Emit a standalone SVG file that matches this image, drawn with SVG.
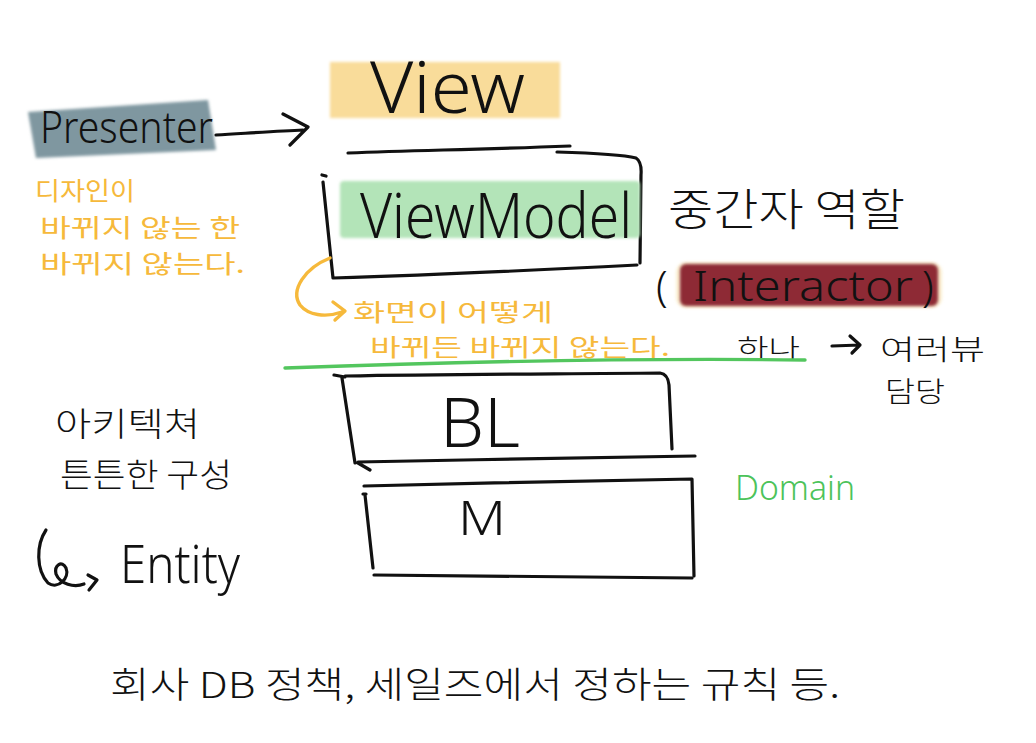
<svg xmlns="http://www.w3.org/2000/svg" width="1036" height="743" viewBox="0 0 1036 743">
<defs>
<style>
.ink{fill:none;stroke:#111;stroke-width:3.2;stroke-linecap:round;stroke-linejoin:round}
.orl{fill:none;stroke:#f6b93b;stroke-width:3.4;stroke-linecap:round;stroke-linejoin:round}
.ko{font-family:"Noto Sans CJK KR","Noto Sans",sans-serif;font-weight:300;fill:#111}
.or{fill:#f6b93b;font-weight:400}
.la{font-family:"Noto Sans","DejaVu Sans",sans-serif;font-weight:300;fill:#111}
.gr{fill:#4cc35a}
</style>
<filter id="soft" x="-10%" y="-30%" width="120%" height="160%"><feGaussianBlur stdDeviation="1.8"/></filter>
</defs>
<rect width="1036" height="743" fill="#fff"/>

<g id="presenter">
<path d="M28 112 L208 100 L216 150 L36 158 Z" fill="#7f97a0" filter="url(#soft)"/>
<text class="la" x="40" y="143" font-size="44" textLength="173" lengthAdjust="spacingAndGlyphs">Presenter</text>
</g>

<g id="view">
<rect x="330" y="62" width="230" height="56" fill="#f9dc9a" filter="url(#soft)"/>
<text class="la" x="370" y="113" font-size="72" textLength="155" lengthAdjust="spacingAndGlyphs">View</text>
</g>

<g id="viewmodel">
<path class="ink" d="M348 153 C420 150 470 150 570 146 M557 152 C590 153 620 154 636 158 Q642 162 641 175 L640 263 M637 265 C540 270 430 275 333 278 L323 182 M322 175 L326 176"/>
<rect x="340" y="181" width="300" height="57" rx="4" fill="#b3e4b8" filter="url(#soft)"/>
<text class="la" x="360" y="238" font-size="62" textLength="272" lengthAdjust="spacingAndGlyphs">ViewModel</text>
</g>

<g id="role">
<text class="ko" x="668" y="226" font-size="44" textLength="237" lengthAdjust="spacingAndGlyphs">중간자 역할</text>
</g>

<g id="interactor">
<rect x="676" y="262" width="266" height="46" rx="10" fill="#f6e3b0" opacity="0.6" filter="url(#soft)"/>
<rect x="680" y="264" width="258" height="42" rx="6" fill="#8e2a35" filter="url(#soft)"/>
<text class="la" font-size="42" font-weight="600" y="301"><tspan x="656">(</tspan><tspan x="693" textLength="220" lengthAdjust="spacingAndGlyphs">Interactor</tspan><tspan x="922">)</tspan></text>
</g>

<g id="design-note">
<text class="ko or" x="35" y="200" font-size="25" textLength="100" lengthAdjust="spacingAndGlyphs">디자인이</text>
<text class="ko or" x="40" y="237" font-size="25" textLength="200" lengthAdjust="spacingAndGlyphs">바뀌지 않는 한</text>
<text class="ko or" x="40" y="273" font-size="25" textLength="205" lengthAdjust="spacingAndGlyphs">바뀌지 않는다.</text>
</g>

<g id="screen-note">
<text class="ko or" x="353" y="321" font-size="24" textLength="200" lengthAdjust="spacingAndGlyphs">화면이 어떻게</text>
<text class="ko or" x="370" y="356" font-size="24" textLength="300" lengthAdjust="spacingAndGlyphs">바뀌든 바뀌지 않는다.</text>
</g>

<g id="views-note">
<text class="ko" x="737" y="358" font-size="26" textLength="63" lengthAdjust="spacingAndGlyphs">하나</text>
<text class="ko" x="880" y="360" font-size="28" textLength="105" lengthAdjust="spacingAndGlyphs">여러뷰</text>
<text class="ko" x="885" y="402" font-size="28" textLength="60" lengthAdjust="spacingAndGlyphs">담당</text>
</g>

<g id="divider">
<path d="M285 368 C450 362 650 358 805 360" fill="none" stroke="#53c65e" stroke-width="3.4" stroke-linecap="round"/>
</g>

<g id="bl">
<path class="ink" d="M334 375 L345 377 M342 378 L355 463 M358 462 C470 460 600 457 695 456 M345 376 C450 374 560 374 660 373 Q668 374 669 385 L672 449 M358 463 L370 470"/>
<text class="la" x="440" y="447" font-size="68" textLength="80" lengthAdjust="spacingAndGlyphs">BL</text>
</g>

<g id="m">
<path class="ink" d="M364 486 C470 483 600 481 692 479 L694 576 M692 578 C580 576 470 575 374 575 M363 494 L366 494 M365 495 L373 568"/>
<text class="la" x="458" y="535" font-size="48" textLength="48" lengthAdjust="spacingAndGlyphs">M</text>
</g>

<g id="domain">
<text class="la gr" x="735" y="500" font-size="34" font-weight="400" textLength="120" lengthAdjust="spacingAndGlyphs">Domain</text>
</g>

<g id="architecture">
<text class="ko" x="55" y="436" font-size="33" textLength="145" lengthAdjust="spacingAndGlyphs">아키텍쳐</text>
<text class="ko" x="60" y="487" font-size="33" textLength="172" lengthAdjust="spacingAndGlyphs">튼튼한 구성</text>
</g>

<g id="entity">
<text class="la" x="120" y="583" font-size="54" textLength="120" lengthAdjust="spacingAndGlyphs">Entity</text>
</g>

<g id="rules">
<text class="ko" x="110" y="698" font-size="36" textLength="730" lengthAdjust="spacingAndGlyphs">회사 DB 정책, 세일즈에서 정하는 규칙 등.</text>
</g>

<g id="connectors">
<path class="ink" d="M216 135 C250 133 280 131 303 130 M283 114 L308 127 L290 145"/>
<path class="orl" d="M330 258 C305 268 290 290 300 305 C308 315 325 318 342 312 M333 302 L345 311 L335 320"/>
<path class="ink" d="M832 346 L860 345 M850 336 L860 345 L852 353" stroke-width="2.6"/>
<path class="ink" d="M46 530 C36 545 36 570 48 583 C58 590 70 578 66 568 C62 560 54 565 56 574 C60 584 74 588 84 584 M88 575 L97 580 L89 590"/>
</g>
</svg>
